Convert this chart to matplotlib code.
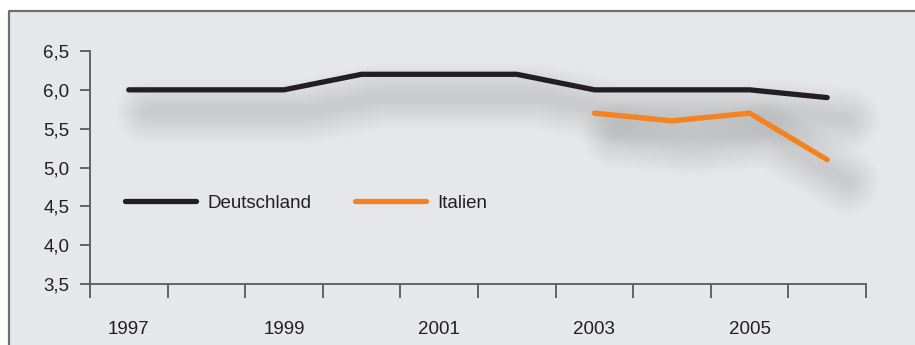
import numpy as np
import matplotlib
matplotlib.use('Agg')
import matplotlib.pyplot as plt
from matplotlib import transforms
from matplotlib.lines import Line2D
from matplotlib.patches import Rectangle

# Werte
years = ['1997', '1998', '1999', '2000', '2001', '2002', '2003', '2004', '2005', '2006']
deutschland = [6.0, 6.0, 6.0, 6.2, 6.2, 6.2, 6.0, 6.0, 6.0, 5.9]
italien = [np.nan, np.nan, np.nan, np.nan, np.nan, np.nan, 5.7, 5.6, 5.7, 5.1]
y_ticks = [3.5, 4.0, 4.5, 5.0, 5.5, 6.0, 6.5]

plt.rcParams['font.family'] = ['Liberation Sans', 'DejaVu Sans']

bg = '#e6e7e8'
axis_col = '#58595b'
black = '#231f20'
orange = '#f58220'

fig = plt.figure(figsize=(9.15, 3.45), dpi=100)
fig.patch.set_facecolor('white')

# grauer Kasten mit Rand oben und links
fig.patches.append(Rectangle((9 / 915, 0), 1, (345 - 11) / 345, transform=fig.transFigure,
                             facecolor=bg, edgecolor='none', zorder=-2))
fig.lines.append(Line2D([9 / 915, 9 / 915, 1], [0, (345 - 11) / 345, (345 - 11) / 345],
                        transform=fig.transFigure, color='#6d6e71', lw=1.6, zorder=-1))

ax = fig.add_axes([90 / 915, 61 / 345, 776 / 915, 233 / 345])
ax.set_facecolor('none')

x = np.arange(len(years))

# weicher Schatten unter den Linien
shadow = transforms.offset_copy(ax.transData, fig=fig, x=20, y=-22, units='dots')
for series in (deutschland, italien):
    for w in np.linspace(48, 6, 28):
        ax.plot(x, series, color='#a4a5a8', lw=w, alpha=0.013, transform=shadow,
                solid_capstyle='round', solid_joinstyle='round', clip_on=False, zorder=1)

ax.plot(x, deutschland, color=black, lw=3.8, solid_capstyle='round',
        solid_joinstyle='miter', label='Deutschland', zorder=3)
ax.plot(x, italien, color=orange, lw=3.8, solid_capstyle='round',
        solid_joinstyle='miter', label='Italien', zorder=3)

ax.set_xlim(-0.5, len(years) - 0.5)
ax.set_ylim(3.5, 6.5)

for s in ('top', 'right'):
    ax.spines[s].set_visible(False)
for s in ('left', 'bottom'):
    ax.spines[s].set_color(axis_col)
    ax.spines[s].set_linewidth(1.3)

ax.set_yticks(y_ticks)
ax.set_yticklabels([('%.1f' % v).replace('.', ',') for v in y_ticks])
ax.tick_params(axis='y', length=7, width=1.3, color=axis_col, pad=8,
               labelsize=13.5, labelcolor='#231f20')

ax.set_xticks(np.arange(len(years) + 1) - 0.5)
ax.set_xticklabels([])
ax.set_xticks(x[::2], minor=True)
ax.set_xticklabels(years[::2], minor=True)
ax.tick_params(axis='x', which='major', direction='out', length=10, width=1.3, color=axis_col)
ax.tick_params(axis='x', which='minor', length=0, pad=27, labelsize=13.5, labelcolor='#231f20')

ax.legend(loc='center left', bbox_to_anchor=(0.045, 0.347), ncol=2, frameon=False,
          fontsize=13.5, handlelength=3.8, handletextpad=0.6, columnspacing=2.3,
          borderpad=0, borderaxespad=0, labelcolor='#231f20')

fig.savefig('out.png', dpi=100, facecolor=fig.get_facecolor())
